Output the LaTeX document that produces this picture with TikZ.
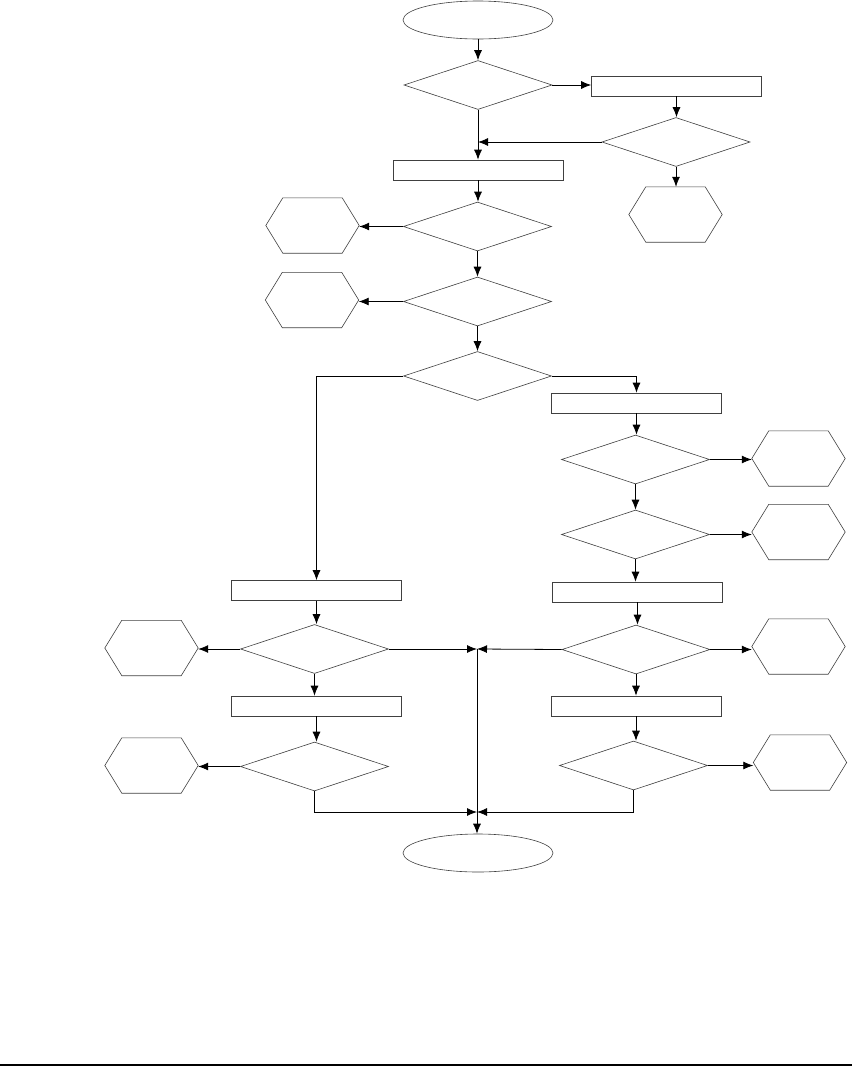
\documentclass[tikz,border=0pt]{standalone}
\usetikzlibrary{shapes.geometric,arrows.meta}
\begin{document}
\begin{tikzpicture}[x=1pt,y=-1pt,
  shp/.style={draw=black!75,line width=0.6pt},
  term/.style={shp,ellipse,minimum width=150pt,minimum height=38pt,inner sep=0pt},
  dec/.style={shp,diamond,shape aspect=3,minimum width=148pt,minimum height=49pt,inner sep=0pt},
  proc/.style={shp,rectangle,minimum width=170pt,minimum height=20pt,inner sep=0pt},
  hexa/.style={rectangle,draw=none,minimum width=93pt,minimum height=55pt,inner sep=0pt},
  arr/.style={draw=black,line width=0.8pt,-{Latex[length=10pt,width=8pt]}},
  ln/.style={draw=black,line width=0.8pt}]
\useasboundingbox (0,0) rectangle (852,1066);
% nodes
\node[term] (start) at (478,20) {};
\node[dec] (d1) at (478,85) {};
\node[proc] (bA) at (676.5,86) {};
\node[dec] (d2) at (676,142) {};
\node[hexa] (hR0) at (675.5,214.5) {};
\node[proc] (bB) at (478,170) {};
\node[dec] (d3) at (477.5,226.5) {};
\node[hexa] (hL1) at (312.5,225.5) {};
\node[dec] (d4) at (477.5,301.5) {};
\node[hexa] (hL2) at (312,300) {};
\node[dec] (d5) at (477.5,376) {};
\node[proc] (bD) at (636.5,403) {};
\node[dec] (d6) at (635.5,459.5) {};
\node[hexa] (hR1) at (798.5,458.5) {};
\node[dec] (d7) at (635.5,534.5) {};
\node[hexa] (hR2) at (798.5,532) {};
\node[proc] (bE) at (637.5,592) {};
\node[proc] (bC) at (316.5,590.5) {};
\node[dec] (d8) at (314.5,649) {};
\node[hexa] (hL3) at (151.5,648) {};
\node[proc] (bF) at (316.5,706) {};
\node[dec] (d9) at (314.5,766.5) {};
\node[hexa] (hL4) at (151.5,765.5) {};
\node[dec] (d10) at (636,649.5) {};
\node[hexa] (hR3) at (798.5,646.5) {};
\node[proc] (bG) at (636,706) {};
\node[dec] (d11) at (633.5,765.5) {};
\node[hexa] (hR4) at (800,762.5) {};
\node[term] (end) at (478,853) {};
\coordinate (J1) at (477,649);
\coordinate (J2) at (477,812);
% hexagons
\foreach \n in {hR0,hL1,hL2,hR1,hR2,hL3,hL4,hR3,hR4}
  \draw[shp] ([xshift=17pt]\n.north west) -- ([xshift=-17pt]\n.north east) -- (\n.east)
    -- ([xshift=-17pt]\n.south east) -- ([xshift=17pt]\n.south west) -- (\n.west) -- cycle;
% connectors
\draw[arr] (start.south) -- (d1.north);
\draw[arr] (d1.east) -- (d1.east -| bA.west);
\draw[arr] (bA.south) -- (bA.south |- d2.north);
\draw[arr] (d2.south) -- (d2.south |- hR0.north);
\draw[arr] (d1.south) -- (bB.north);
\draw[arr] (d2.west) -- (d2.west -| d1.south);
\draw[arr] (bB.south) -- (bB.south |- d3.north);
\draw[arr] (d3.west) -- (d3.west -| hL1.east);
\draw[arr] (d3.south) -- (d3.south |- d4.north);
\draw[arr] (d4.west) -- (d4.west -| hL2.east);
\draw[arr] (d4.south) -- (d4.south |- d5.north);
\draw[arr] (d5.west) -| (bC.north);
\draw[arr] (d5.east) -| (bD.north);
\draw[arr] (bD.south) -- (bD.south |- d6.north);
\draw[arr] (d6.east) -- (d6.east -| hR1.west);
\draw[arr] (d6.south) -- (d6.south |- d7.north);
\draw[arr] (d7.east) -- (d7.east -| hR2.west);
\draw[arr] (d7.south) -- (d7.south |- bE.north);
\draw[arr] (bE.south) -- (bE.south |- d10.north);
\draw[arr] (bC.south) -- (bC.south |- d8.north);
\draw[arr] (d8.west) -- (d8.west -| hL3.east);
\draw[arr] (d8.south) -- (d8.south |- bF.north);
\draw[arr] (bF.south) -- (bF.south |- d9.north);
\draw[arr] (d9.west) -- (d9.west -| hL4.east);
\draw[arr] (d10.east) -- (d10.east -| hR3.west);
\draw[arr] (d10.south) -- (d10.south |- bG.north);
\draw[arr] (bG.south) -- (bG.south |- d11.north);
\draw[arr] (d11.east) -- (d11.east -| hR4.west);
\draw[arr] (d8.east) -- (J1);
\draw[arr] (d10.west) -- (J1);
\draw[arr] (d9.south) |- (J2);
\draw[arr] (d11.south) |- (J2);
\draw[arr] (J1) -- (J1 |- end.north);
% bottom rule
\draw[line width=1.5pt] (0,1065) -- (852,1065);
\end{tikzpicture}
\end{document}
